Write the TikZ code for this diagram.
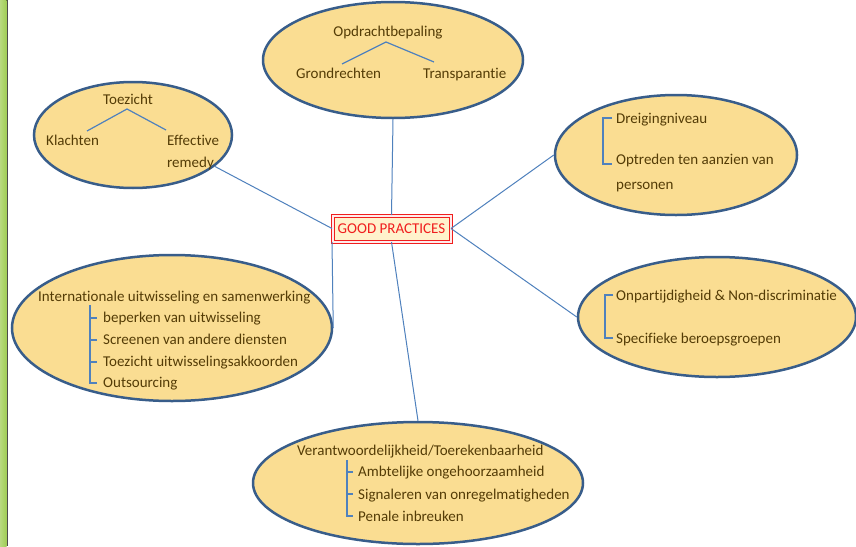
\documentclass[tikz,border=0pt]{standalone}
\usepackage{fontspec}
\setmainfont{Carlito}[Ligatures=NoCommon]
\usetikzlibrary{shapes.geometric}
\definecolor{fillc}{RGB}{250,221,146}
\definecolor{bordc}{RGB}{56,93,138}
\definecolor{linec}{RGB}{79,129,189}
\definecolor{txtc}{RGB}{84,60,6}
\definecolor{greenbar}{RGB}{160,205,85}
\definecolor{goodfill}{RGB}{255,242,204}
\definecolor{goodred}{RGB}{240,30,30}
\begin{document}
\begin{tikzpicture}[x=1pt,y=-1pt,
  bubble/.style={ellipse,draw=bordc,line width=2.5pt,fill=fillc,inner sep=0pt},
  lbl/.style={text=txtc,font=\fontsize{15}{18}\selectfont,inner sep=0pt,yshift=-1.5pt},
  link/.style={draw=linec,line width=1pt},
  treeln/.style={draw=linec,line width=1.2pt},
  goodbox/.style={draw=goodred,line width=1pt,double=red!8,double distance=2pt,fill=goodfill,
    minimum width=118pt,minimum height=26pt,inner sep=0pt,text=goodred,font=\fontsize{15}{18}\selectfont}]
\useasboundingbox (0,0) rectangle (856,546);
\fill[white] (0,0) rectangle (856,546);
\fill[left color=greenbar!75!white,right color=greenbar] (0,0) rectangle (6.5,546);
\draw[black!70,line width=1pt] (7,0) -- (7,546);

% bubbles
\node[bubble,minimum width=198pt,minimum height=106pt] (toe) at (133,135) {};
\node[bubble,minimum width=260pt,minimum height=116pt] (opd) at (393,60) {};
\node[bubble,minimum width=242pt,minimum height=120pt] (dre) at (676,155) {};
\node[bubble,minimum width=278pt,minimum height=120pt] (onp) at (717,317) {};
\node[bubble,minimum width=320pt,minimum height=146pt] (int) at (172,328) {};
\node[bubble,minimum width=330pt,minimum height=122pt] (ver) at (418,483) {};

\node[goodbox] (good) at (391.5,228.5) {GOOD PRACTICES};

% connectors
\draw[link] (toe.-21) -- (good.west);
\draw[link] (opd.south) -- (good.north);
\draw[link] (dre.west) -- (good.east);
\draw[link] (onp.west) -- (good.east);
\draw[link] (good.south west) -- (int.east);
\draw[link] (good.south) -- (ver.north);

% Toezicht
\node[lbl] (toez) at (128,98) {Toezicht};
\node[lbl,anchor=mid west] (kla) at (46,142) {Klachten};
\node[lbl,anchor=mid west,align=left] (eff) at (167,142) {Effective};
\node[lbl,anchor=mid west] (rem) at (167,164) {remedy};
\coordinate (tA) at (127,109);
\coordinate (tL) at (87,131);
\coordinate (tR) at (166,130);
\draw[treeln] (tL) -- (tA) -- (tR);

% Opdrachtbepaling
\node[lbl] (opdt) at (388,31) {Opdrachtbepaling};
\node[lbl,anchor=mid west] (gro) at (296,75) {Grondrechten};
\node[lbl,anchor=mid west] (tra) at (423,75) {Transparantie};
\coordinate (oA) at (386,42);
\coordinate (oL) at (342,64);
\coordinate (oR) at (434,62);
\draw[treeln] (oL) -- (oA) -- (oR);

% Dreigingniveau
\node[lbl,anchor=mid west] (d1) at (616,120) {Dreigingniveau};
\node[lbl,anchor=mid west] (d2) at (616,161) {Optreden ten aanzien van};
\node[lbl,anchor=mid west] (d3) at (616,186) {personen};
\draw[treeln] (612,118) -- (603,118) |- (612,164);

% Onpartijdigheid
\node[lbl,anchor=mid west] (o1) at (616,297) {Onpartijdigheid \& Non-discriminatie};
\node[lbl,anchor=mid west] (o2) at (616,340) {Specifieke beroepsgroepen};
\draw[treeln] (613,295) -- (605,295) |- (613,338);

% Internationale
\node[lbl,anchor=mid west] (i0) at (38,298) {Internationale uitwisseling en samenwerking};
\node[lbl,anchor=mid west] (i1) at (103,319) {beperken van uitwisseling};
\node[lbl,anchor=mid west] (i2) at (103,341) {Screenen van andere diensten};
\node[lbl,anchor=mid west] (i3) at (103,363) {Toezicht uitwisselingsakkoorden};
\node[lbl,anchor=mid west] (i4) at (103,384) {Outsourcing};
\coordinate (iT) at (90,305);
\draw[treeln] (iT) |- (97,383);
\draw[treeln] (90,318) -- (97,318);
\draw[treeln] (90,340) -- (97,340);
\draw[treeln] (90,362) -- (97,362);

% Verantwoordelijkheid
\node[lbl,anchor=mid west] (v0) at (297,452) {Verantwoordelijkheid/Toerekenbaarheid};
\node[lbl,anchor=mid west] (v1) at (358,473) {Ambtelijke ongehoorzaamheid};
\node[lbl,anchor=mid west] (v2) at (358,496) {Signaleren van onregelmatigheden};
\node[lbl,anchor=mid west] (v3) at (358,518) {Penale inbreuken};
\coordinate (vT) at (347,460);
\draw[treeln] (vT) |- (353,516);
\draw[treeln] (347,472) -- (353,472);
\draw[treeln] (347,494) -- (353,494);
\end{tikzpicture}
\end{document}
